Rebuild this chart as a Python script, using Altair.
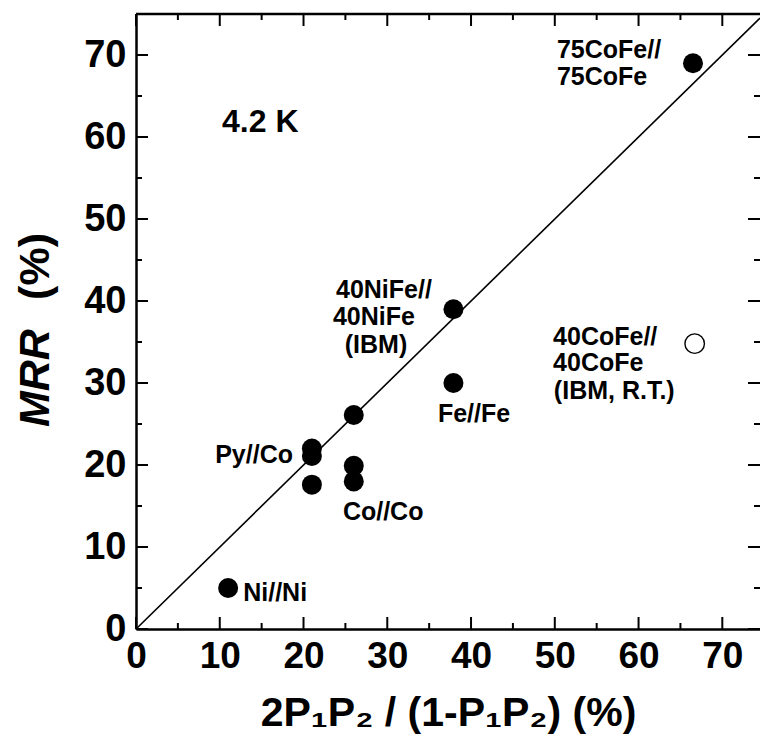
import altair as alt
import pandas as pd

# ---- data ----
filled_x = [11.0, 21.0, 21.0, 21.0, 26.0, 26.0, 26.0, 37.9, 37.9, 66.5]
filled_y = [5.0, 22.0, 21.1, 17.6, 26.1, 19.9, 18.0, 39.0, 30.0, 69.0]
open_x = [66.7]
open_y = [34.8]
diag = [0.0, 74.5]

x_major = [0, 10, 20, 30, 40, 50, 60, 70]
x_minor = [5, 15, 25, 35, 45, 55, 65]
y_major = [0, 10, 20, 30, 40, 50, 60, 70]
y_minor = [5, 15, 25, 35, 45, 55, 65]

ann_text = ["75CoFe//", "75CoFe", "40NiFe//", "40NiFe", "(IBM)",
            "40CoFe//", "40CoFe", "(IBM, R.T.)", "Fe//Fe", "Py//Co",
            "Co//Co", "Ni//Ni"]
ann_x = [50.26, 50.26, 29.6, 28.4, 28.65, 49.8, 49.8, 57.1, 36.05, 18.74, 24.7, 12.8]
ann_y = [70.6, 67.3, 41.4, 38.0, 34.6, 35.6, 32.4, 29.0, 26.2, 21.2, 14.3, 4.4]
ann_align = ["left", "left", "center", "center", "center", "left", "left",
             "center", "left", "right", "left", "left"]

temp_text = ["4.2 K"]
temp_x = [10.27]
temp_y = [61.8]

W, H = 624, 615
FONT = "Liberation Sans"

xs = alt.Scale(domain=[0, 74.5], nice=False, zero=False)
ys = alt.Scale(domain=[0, 75], nice=False, zero=False)

pts = pd.DataFrame({"x": filled_x, "y": filled_y})
opn = pd.DataFrame({"x": open_x, "y": open_y})
dg = pd.DataFrame({"x": diag, "y": diag})
ann = pd.DataFrame({"t": ann_text, "x": ann_x, "y": ann_y, "a": ann_align})
tmp = pd.DataFrame({"t": temp_text, "x": temp_x, "y": temp_y})

xaxis = alt.Axis(values=x_major, ticks=False, grid=False, domainColor="black",
                 domainWidth=2.5, labelFont=FONT, labelFontSize=37,
                 labelFontWeight="bold", labelColor="black", labelPadding=9,
                 labelFlush=False,
                 title="2P\u2081P\u2082 / (1-P\u2081P\u2082) (%)", titleFont=FONT,
                 titleFontSize=41, titleFontWeight="bold", titleColor="black",
                 titlePadding=19)
yaxis = alt.Axis(values=y_major, ticks=False, grid=False, domainColor="black",
                 domainWidth=2.5, labelFont=FONT, labelFontSize=38,
                 labelFontWeight="bold", labelColor="black", labelPadding=10,
                 title=None)

line = alt.Chart(dg).mark_line(color="black", strokeWidth=1.6, clip=True).encode(
    x=alt.X("x:Q", scale=xs, axis=xaxis),
    y=alt.Y("y:Q", scale=ys, axis=yaxis),
)

filled = alt.Chart(pts).mark_point(shape="circle", filled=True, color="black",
                                   size=400, opacity=1).encode(
    x=alt.X("x:Q", scale=xs), y=alt.Y("y:Q", scale=ys))

openc = alt.Chart(opn).mark_point(shape="circle", filled=False, color="black",
                                  size=380, strokeWidth=1.4, opacity=1).encode(
    x=alt.X("x:Q", scale=xs), y=alt.Y("y:Q", scale=ys))

layers = [line, filled, openc]
for al in ["left", "center", "right"]:
    sub = ann[ann["a"] == al]
    layers.append(
        alt.Chart(sub).mark_text(font=FONT, fontSize=25, fontWeight="bold",
                                 color="black", align=al, baseline="middle").encode(
            x=alt.X("x:Q", scale=xs), y=alt.Y("y:Q", scale=ys), text="t:N"))

layers.append(
    alt.Chart(tmp).mark_text(font=FONT, fontSize=32, fontWeight="bold",
                             color="black", align="left", baseline="middle").encode(
        x=alt.X("x:Q", scale=xs), y=alt.Y("y:Q", scale=ys), text="t:N"))


def xticks(vals, length):
    d = pd.DataFrame({"v": vals})
    bottom = alt.Chart(d).mark_rule(color="black", strokeWidth=2).encode(
        x=alt.X("v:Q", scale=xs), y=alt.value(H), y2=alt.value(H - length))
    top = alt.Chart(d).mark_rule(color="black", strokeWidth=2).encode(
        x=alt.X("v:Q", scale=xs), y=alt.value(0), y2=alt.value(length))
    return [bottom, top]


def yticks(vals, length):
    d = pd.DataFrame({"v": vals})
    left = alt.Chart(d).mark_rule(color="black", strokeWidth=2).encode(
        y=alt.Y("v:Q", scale=ys), x=alt.value(0), x2=alt.value(length))
    right = alt.Chart(d).mark_rule(color="black", strokeWidth=2).encode(
        y=alt.Y("v:Q", scale=ys), x=alt.value(W), x2=alt.value(W - length))
    return [left, right]


layers += xticks(x_major, 12) + xticks(x_minor, 6)
layers += yticks(y_major, 12) + yticks(y_minor, 6)

# top frame line
layers.append(alt.Chart(pd.DataFrame({"v": [0]})).mark_rule(
    color="black", strokeWidth=2.5).encode(
    x=alt.value(0), x2=alt.value(W + 10), y=alt.value(0)))

# y-axis title: italic "MRR" + upright "(%)"
ytitle = pd.DataFrame({"v": [0]})
layers.append(alt.Chart(ytitle).mark_text(
    text="MRR", font=FONT, fontSize=43, fontWeight="bold", fontStyle="italic",
    angle=270, align="left", baseline="middle", color="black").encode(
    x=alt.value(-100), y=alt.value(413)))
layers.append(alt.Chart(ytitle).mark_text(
    text="(%)", font=FONT, fontSize=43, fontWeight="bold",
    angle=270, align="right", baseline="middle", color="black").encode(
    x=alt.value(-100), y=alt.value(219)))

chart = alt.layer(*layers).properties(
    width=W, height=H,
    autosize=alt.AutoSizeParams(type="none"),
    padding={"left": 136, "top": 14, "right": 0, "bottom": 111},
    background="white",
).configure_view(stroke=None)

chart.save("out.html", embed_options={"renderer": "svg", "actions": False})
